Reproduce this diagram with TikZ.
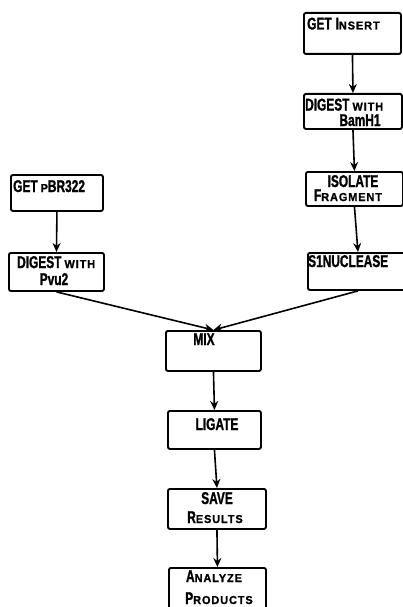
\documentclass[tikz,border=0pt]{standalone}
\usepackage{fontspec}
\usetikzlibrary{arrows.meta}
\newfontfamily\lblfont{Liberation Sans}[FakeStretch=0.7,BoldFeatures={FakeBold=1.2}]
\newfontfamily\scfont{Liberation Sans}[FakeStretch=0.95,LetterSpace=8,BoldFeatures={FakeBold=1}]
\newcommand{\smcap}[1]{{\scfont\bfseries\fontsize{11.5}{11.5}\selectfont\MakeUppercase{#1}}}
\begin{document}
\begin{tikzpicture}[x=1pt,y=-1pt,
  box/.style={draw, line width=1.9pt, rounded corners=2pt, anchor=north west, inner sep=0pt},
  lbl/.style={font=\lblfont\bfseries\fontsize{17}{17}\selectfont, inner sep=0pt},
  arr/.style={line width=1.6pt, -{Stealth[length=9pt,width=8pt]}}]
\useasboundingbox (0,0) rectangle (403,607);
\clip (0,0) rectangle (403,607);
% boxes
\node[box, minimum width=97pt, minimum height=41pt] (ins) at (303,12) {};
\node[box, minimum width=98pt, minimum height=35pt] (bam) at (303,93) {};
\node[box, minimum width=97pt, minimum height=34pt] (iso) at (305,171) {};
\node[box, minimum width=100pt, minimum height=37pt] (s1) at (307,252) {};
\node[box, minimum width=92pt, minimum height=36pt] (pbr) at (10,174) {};
\node[box, minimum width=95pt, minimum height=38pt] (pvu) at (8,252) {};
\node[box, minimum width=95pt, minimum height=40pt] (mix) at (165,330) {};
\node[box, minimum width=93pt, minimum height=38pt] (lig) at (167,410) {};
\node[box, minimum width=98pt, minimum height=40pt] (sav) at (167,488) {};
\node[box, minimum width=97pt, minimum height=50pt] (ana) at (168,567) {};
% labels
\node[lbl, anchor=base west] (tins) at (307,29.5) {GET\hspace{4pt}I\smcap{nsert}};
\node[lbl, anchor=base west] (tbam1) at (305,110.5) {DIGEST\hspace{3pt}\smcap{with}};
\node[lbl, anchor=base] (tbam2) at (360,126) {BamH1};
\node[lbl, anchor=base] (tiso1) at (353,187) {ISOLATE};
\node[lbl, anchor=base] (tiso2) at (348,201) {F\smcap{ragment}};
\node[lbl, anchor=base west] (ts1) at (308,267) {S1NUCLEASE};
\node[lbl, anchor=base west] (tpbr) at (13,192) {GET\hspace{3pt}\smcap{p}BR322};
\node[lbl, anchor=base west] (tpvu1) at (17,268) {DIGEST\hspace{3pt}\smcap{with}};
\node[lbl, anchor=base] (tpvu2) at (54,285) {Pvu2};
\node[lbl, anchor=base] (tmix) at (204,345) {MIX};
\node[lbl, anchor=base] (tlig) at (217,430) {LIGATE};
\node[lbl, anchor=base] (tsav1) at (217,504) {SAVE};
\node[lbl, anchor=base] (tsav2) at (215,523) {R\smcap{esults}};
\node[lbl, anchor=base] (tana1) at (214,582) {A\smcap{nalyze}};
\node[lbl, anchor=base] (tana2) at (219,604) {P\smcap{roducts}};
% connectors
\draw[arr] (ins.south) -- (bam.north);
\draw[arr] (bam.south) -- (iso.north);
\draw[arr] (iso.south) -- (s1.north);
\draw[arr] (pbr.south) -- (pvu.north);
\draw[arr] (pvu.south) -- (mix.north);
\draw[arr] (s1.south) -- (mix.north);
\draw[arr] (mix.south) -- (lig.north);
\draw[arr] (lig.south) -- (sav.north);
\draw[arr] (sav.south) -- (ana.north);
\end{tikzpicture}
\end{document}
